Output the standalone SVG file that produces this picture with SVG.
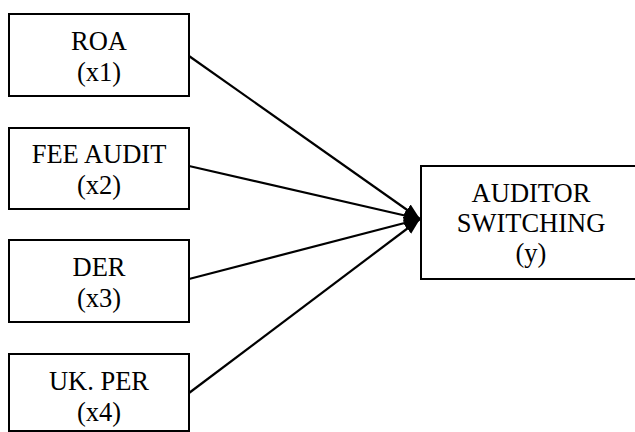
<svg xmlns="http://www.w3.org/2000/svg" width="635" height="432" viewBox="0 0 635 432">
<style>
.box{fill:#fff;stroke:#000;stroke-width:2}
.t{font-family:'Liberation Serif','DejaVu Serif',serif;font-size:26.5px;fill:#000;text-anchor:middle}
.c{stroke:#000;stroke-width:2.2;fill:none;marker-end:url(#ah)}
</style>
<defs>
<marker id="ah" markerUnits="userSpaceOnUse" markerWidth="18" markerHeight="16" refX="16" refY="8" orient="auto">
<path d="M0,1.5 L16,8 L0,14.5 z" fill="#000"/>
</marker>
</defs>
<rect width="635" height="432" fill="#fff"/>
<g id="connectors">
<line class="c" x1="189" y1="56" x2="420" y2="219"/>
<line class="c" x1="189" y1="166" x2="420" y2="219"/>
<line class="c" x1="189" y1="279" x2="420" y2="219"/>
<line class="c" x1="189" y1="393" x2="420" y2="219"/>
</g>
<g id="roa">
<rect class="box" x="9" y="14" width="180" height="82"/>
<text class="t" x="99" y="50">ROA</text>
<text class="t" x="99" y="81">(x1)</text>
</g>
<g id="fee-audit">
<rect class="box" x="9" y="128" width="180" height="81"/>
<text class="t" x="99" y="163">FEE AUDIT</text>
<text class="t" x="99" y="194">(x2)</text>
</g>
<g id="der">
<rect class="box" x="9" y="240" width="180" height="82"/>
<text class="t" x="99" y="276">DER</text>
<text class="t" x="99" y="307">(x3)</text>
</g>
<g id="uk-per">
<rect class="box" x="9" y="354" width="180" height="77"/>
<text class="t" x="99" y="390">UK. PER</text>
<text class="t" x="99" y="421">(x4)</text>
</g>
<g id="auditor-switching">
<rect class="box" x="421" y="166" width="222" height="113"/>
<text class="t" x="531" y="202">AUDITOR</text>
<text class="t" x="531" y="232">SWITCHING</text>
<text class="t" x="531" y="262">(y)</text>
</g>
</svg>
